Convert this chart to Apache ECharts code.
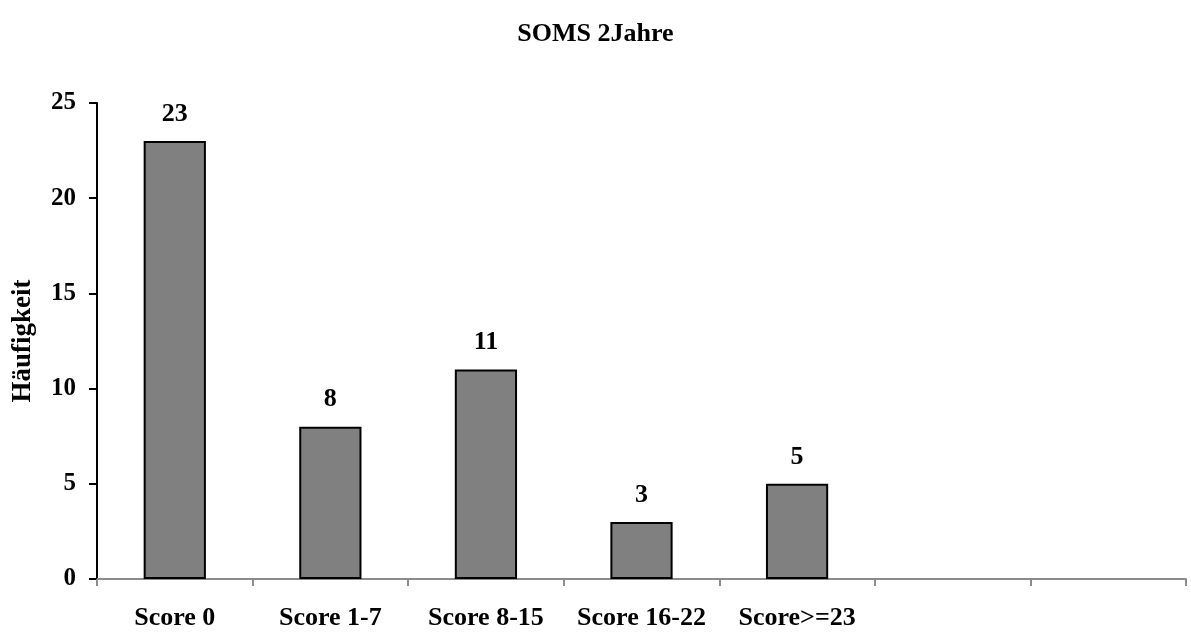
<!DOCTYPE html>
<html>
<head>
<meta charset="utf-8">
<script src="https://cdn.jsdelivr.net/npm/echarts@6/dist/echarts.min.js"></script>
<style>
  html, body { margin: 0; padding: 0; background: #fff; }
  #chart { width: 1191px; height: 632px; }
</style>
</head>
<body>
<div id="chart"></div>
<script>
// data
const categories = ['Score 0', 'Score 1-7', 'Score 8-15', 'Score 16-22', 'Score>=23', '', '']
const counts = [23, 8, 11, 3, 5, null, null]
const yTicks = { min: 0, max: 25, interval: 5 }

const FONT = '"Liberation Serif", "Times New Roman", serif'

var chart = echarts.init(document.getElementById('chart'))

chart.setOption({
  animation: false,
  backgroundColor: '#ffffff',
  title: {
    text: 'SOMS 2Jahre',
    left: 'center',
    top: 16,
    textStyle: { fontFamily: FONT, fontSize: 26, fontWeight: 'bold', color: '#000' }
  },
  grid: { left: 97, right: 5, top: 103, bottom: 53 },
  xAxis: {
    type: 'category',
    data: categories,
    axisLine: { lineStyle: { color: '#8c8c8c', width: 2 } },
    axisTick: { show: true, length: 7, lineStyle: { color: '#8c8c8c', width: 2 } },
    axisLabel: {
      margin: 26,
      interval: 0,
      fontFamily: FONT, fontSize: 26, fontWeight: 'bold', color: '#000'
    }
  },
  yAxis: {
    type: 'value',
    min: yTicks.min,
    max: yTicks.max,
    interval: yTicks.interval,
    name: 'Häufigkeit',
    nameLocation: 'middle',
    nameGap: 60,
    nameRotate: 90,
    nameTextStyle: { fontFamily: FONT, fontSize: 27, fontWeight: 'bold', color: '#000' },
    axisLine: { show: true, lineStyle: { color: '#000', width: 2 } },
    axisTick: { show: true, length: 8, lineStyle: { color: '#000', width: 2 } },
    splitLine: { show: false },
    axisLabel: { margin: 21, fontFamily: FONT, fontSize: 25, fontWeight: 'bold', color: '#000' }
  },
  series: [{
    type: 'bar',
    data: counts,
    barWidth: '40%',
    itemStyle: { color: '#808080', borderColor: '#000', borderWidth: 2 },
    label: {
      show: true,
      position: 'top',
      distance: 14,
      fontFamily: FONT, fontSize: 26, fontWeight: 'bold', color: '#000'
    }
  }]
})
</script>
</body>
</html>
